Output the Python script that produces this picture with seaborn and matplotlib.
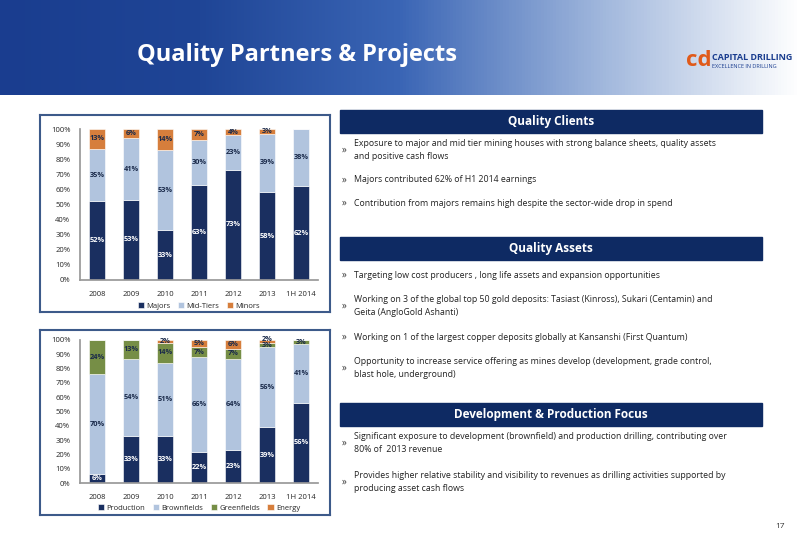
import matplotlib.pyplot as plt
import matplotlib.patches as mpatches
import numpy as np
import pandas as pd
import seaborn as sns

years = ['2008', '2009', '2010', '2011', '2012', '2013', '1H 2014']

# client mix (%)
majors = [52, 53, 33, 63, 73, 58, 62]
mid_tiers = [35, 41, 53, 30, 23, 39, 38]
minors = [13, 6, 14, 7, 4, 3, 0]

# project mix (%)
production = [6, 33, 33, 22, 23, 39, 56]
brownfields = [70, 54, 51, 66, 64, 56, 41]
greenfields = [24, 13, 14, 7, 7, 3, 3]
energy = [0, 0, 2, 5, 6, 2, 0]

NAVY = '#0f2a6b'
LIGHT = '#a9c3e6'
ORANGE = '#f07b22'
GREEN = '#7a9a3a'

sns.set_theme(style='white')
plt.rcParams['font.family'] = ['Open Sans', 'DejaVu Sans']

W, H = 800, 554
fig = plt.figure(figsize=(8, 5.54), dpi=100)


def fx(px):
    return px / W


def fy(py):
    return 1 - py / H


# header band
bg = fig.add_axes([0, fy(95), 1, 95 / H])
grad = np.linspace(0, 1, 256)[None, :]
bg.imshow(grad, aspect='auto',
          cmap=sns.blend_palette(['#1a3d8f', '#1f4596', '#3a65b5', '#9fb6dc', '#ffffff'], as_cmap=True),
          extent=[0, 1, 0, 1])
bg.set_axis_off()
fig.text(fx(137), fy(55), 'Quality Partners & Projects', color='white', fontsize=17,
         fontweight='bold', va='center')
fig.text(fx(712), fy(58), 'CAPITAL DRILLING', color='#1a3d8f', fontsize=6.5, fontweight='bold', va='center')
fig.text(fx(712), fy(67), 'EXCELLENCE IN DRILLING', color='#1a3d8f', fontsize=4, va='center')
fig.text(fx(686), fy(60), 'cd', color='#e05a1a', fontsize=16, fontweight='bold', va='center')


def stacked(box, axrect, series, names, colors, label_colors):
    frame = fig.add_axes([fx(box[0]), fy(box[3]), fx(box[2] - box[0]), (box[3] - box[1]) / H])
    frame.set_xticks([]); frame.set_yticks([])
    frame.patch.set_alpha(0)
    for s in frame.spines.values():
        s.set_color('#3d5a8a'); s.set_linewidth(1.5)
    ax = fig.add_axes([fx(axrect[0]), fy(axrect[3]), fx(axrect[2] - axrect[0]), (axrect[3] - axrect[1]) / H])
    bottom = np.zeros(len(years))
    last_y = np.full(len(years), -100.0)
    for vals, name, c, lc in zip(series, names, colors, label_colors):
        df = pd.DataFrame({'year': years, 'v': vals})
        sns.barplot(data=df, x='year', y='v', bottom=bottom, color=c, width=0.45,
                    edgecolor='white', linewidth=0.4, ax=ax, label=name)
        for i, v in enumerate(vals):
            if v > 0:
                y = max(bottom[i] + v / 2, last_y[i] + 4)
                ax.text(i, y, f'{v}%', ha='center', va='center', clip_on=False,
                        fontsize=5.3, color=lc, fontweight='bold')
                last_y[i] = y
        bottom = bottom + np.array(vals)
    ax.set_ylim(0, 100)
    ax.set_yticks(range(0, 101, 10))
    ax.set_yticklabels([f'{t}%' for t in range(0, 101, 10)], fontsize=5.5)
    ax.tick_params(axis='x', labelsize=5.5, pad=2)
    ax.tick_params(axis='y', pad=1)
    ax.set_xlabel(''); ax.set_ylabel('')
    for k in ['top', 'right']:
        ax.spines[k].set_visible(False)
    ax.spines['left'].set_color('#999999'); ax.spines['bottom'].set_color('#999999')
    ax.legend(loc='upper center', bbox_to_anchor=(0.5, -0.1), ncol=len(names), frameon=False,
              fontsize=5.5, handlelength=0.8, handleheight=0.8, columnspacing=1.0, handletextpad=0.3)
    return ax


stacked((40, 115, 330, 312), (80, 129, 318, 280), [majors, mid_tiers, minors],
        ['Majors', 'Mid-Tiers', 'Minors'], [NAVY, LIGHT, ORANGE], ['white', '#1a2a4a', '#1a2a4a'])
stacked((40, 330, 330, 515), (80, 340, 318, 483), [production, brownfields, greenfields, energy],
        ['Production', 'Brownfields', 'Greenfields', 'Energy'], [NAVY, LIGHT, GREEN, ORANGE],
        ['white', '#1a2a4a', '#1a2a4a', '#1a2a4a'])

# right-hand text panels
sections = [
    (110, 'Quality Clients', [
        (150, 'Exposure to major and mid tier mining houses with strong balance sheets, quality assets\nand positive cash flows'),
        (180, 'Majors contributed 62% of H1 2014 earnings'),
        (203, 'Contribution from majors remains high despite the sector-wide drop in spend'),
    ]),
    (237, 'Quality Assets', [
        (275, 'Targeting low cost producers , long life assets and expansion opportunities'),
        (306, 'Working on 3 of the global top 50 gold deposits: Tasiast (Kinross), Sukari (Centamin) and\nGeita (AngloGold Ashanti)'),
        (337, 'Working on 1 of the largest copper deposits globally at Kansanshi (First Quantum)'),
        (368, 'Opportunity to increase service offering as mines develop (development, grade control,\nblast hole, underground)'),
    ]),
    (403, 'Development & Production Focus', [
        (443, 'Significant exposure to development (brownfield) and production drilling, contributing over\n80% of  2013 revenue'),
        (482, 'Provides higher relative stability and visibility to revenues as drilling activities supported by\nproducing asset cash flows'),
    ]),
]
for top, title, bullets in sections:
    fig.patches.append(mpatches.Rectangle((fx(340), fy(top + 23)), fx(422), 23 / H,
                                          transform=fig.transFigure, color='#0e2a63'))
    fig.text(fx(551), fy(top + 11.5), title, color='white', fontsize=8.5, fontweight='bold',
             ha='center', va='center')
    for y, txt in bullets:
        fig.text(fx(342), fy(y), '»', color='#333333', fontsize=7, va='center')
        fig.text(fx(354), fy(y), txt, color='#222222', fontsize=6.3, va='center', linespacing=1.6)

fig.text(fx(785), fy(528), '17', fontsize=6, ha='right', color='#333333')

plt.savefig('out.png', dpi=100)
